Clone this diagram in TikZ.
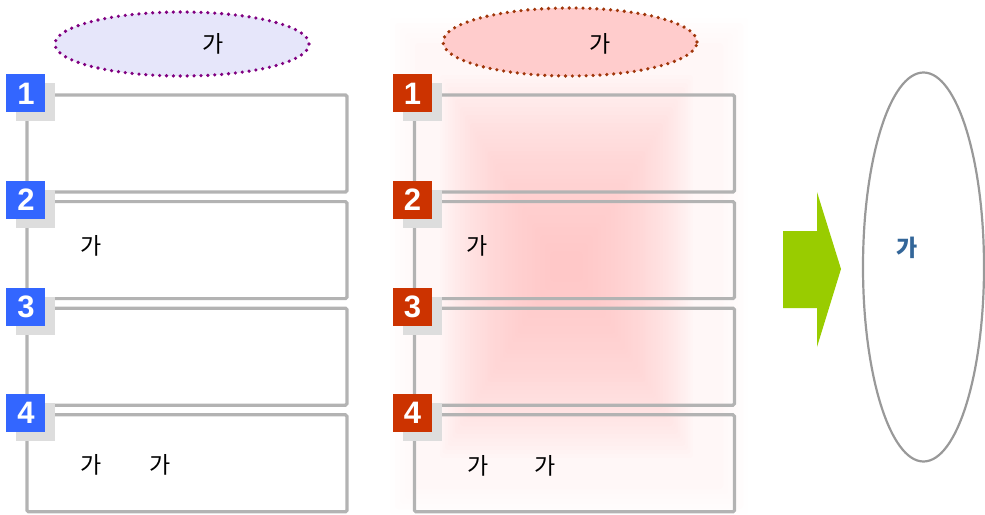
\documentclass[tikz,border=0pt]{standalone}
\usepackage{fontspec}
\setmainfont{Liberation Sans}
\newfontfamily\krfont{Noto Sans CJK KR}
\usetikzlibrary{shapes.geometric,shadows}
\definecolor{boxgray}{HTML}{B3B3B3}
\definecolor{shadowgray}{HTML}{DDDDDD}
\definecolor{badgeblue}{HTML}{3366FF}
\definecolor{badgered}{HTML}{CC3300}
\definecolor{lavender}{HTML}{E6E6FA}
\definecolor{dotpurple}{HTML}{800080}
\definecolor{rosefill}{HTML}{FFCCCC}
\definecolor{dotbrown}{HTML}{A0360A}
\definecolor{glowpink}{HTML}{FFBDBD}
\definecolor{arrowgreen}{HTML}{99CC00}
\definecolor{ringgray}{HTML}{999999}
\definecolor{labelblue}{HTML}{336699}
\begin{document}
\begin{tikzpicture}[x=1pt,y=-1pt,
  panel/.style={draw=boxgray, line width=3.2pt, rounded corners=1.5pt,
    minimum width=320pt, minimum height=97pt, inner sep=0pt},
  badge/.style={minimum width=39pt, minimum height=38pt, inner sep=0pt,
    text=white, font=\fontsize{31}{33}\selectfont\bfseries,
    drop shadow={shadow xshift=10pt, shadow yshift=-9pt, fill=shadowgray, opacity=1}},
  dotring/.style={ellipse, line width=3.6pt, dash pattern=on 0pt off 6.9pt,
    line cap=round, inner sep=0pt},
  kr/.style={font=\krfont\fontsize{23}{26}\selectfont, text=black, inner sep=0pt}
]
\useasboundingbox (0,0) rectangle (985,514);

% soft pink glow behind the middle column: faint wide halo ...
\foreach \i in {0,...,5} {
  \fill[glowpink, opacity=0.02, rounded corners=3pt]
    ({390+5*\i},{18+5*\i}) rectangle ({748-5*\i},{514-5*\i});
}
% ... and a stronger core that fades towards its edges
\foreach \i in {0,...,44} {
  \fill[glowpink, opacity=0.034, rounded corners=3pt]
    ({440+2.5*\i},{75+4*\i}) rectangle ({693-2.5*\i},{458-4*\i});
}

% heading ellipses
\node[dotring, draw=dotpurple, fill=lavender, minimum width=254pt, minimum height=64pt] (hl) at (182,44) {};
\node[kr] (hlt) at (213,44) {가};
\node[dotring, draw=dotbrown, fill=rosefill, minimum width=254pt, minimum height=68pt] (hm) at (570,42) {};
\node[kr] (hmt) at (600,44) {가};

% left column of boxes
\foreach \n/\y in {1/143.5, 2/250.1, 3/356.7, 4/463.3} {
  \node[panel, fill=white] (L\n) at (187,\y) {};
}
% middle column of boxes
\foreach \n/\y in {1/143.5, 2/250.1, 3/356.7, 4/463.3} {
  \node[panel] (M\n) at (574.5,\y) {};
}

% numbered badges
\foreach \n in {1,...,4} {
  \node[badge, fill=badgeblue] (LB\n) at ([xshift=0.5pt]L\n.north west) {\n};
  \node[badge, fill=badgered] (MB\n) at ([xshift=-0.5pt]M\n.north west) {\n};
}

% box texts
\node[kr] (l2t) at (91,246) {가};
\node[kr] (l4a) at (91,465) {가};
\node[kr] (l4b) at (160,465) {가};
\node[kr] (m2t) at (477,246) {가};
\node[kr] (m4a) at (478,466) {가};
\node[kr] (m4b) at (545,466) {가};

% block arrow
\fill[arrowgreen] (783,231) -- (817,231) -- (817,192) -- (841,269)
  -- (817,347) -- (817,308) -- (783,308) -- cycle;

% result ellipse
\node[ellipse, draw=ringgray, line width=2.2pt, minimum width=121pt, minimum height=389pt, inner sep=0pt] (res) at (923.5,267) {};
\node[font=\krfont\fontsize{23}{26}\selectfont\bfseries, text=labelblue, inner sep=0pt] (rest) at (907,248) {가};
\end{tikzpicture}
\end{document}
